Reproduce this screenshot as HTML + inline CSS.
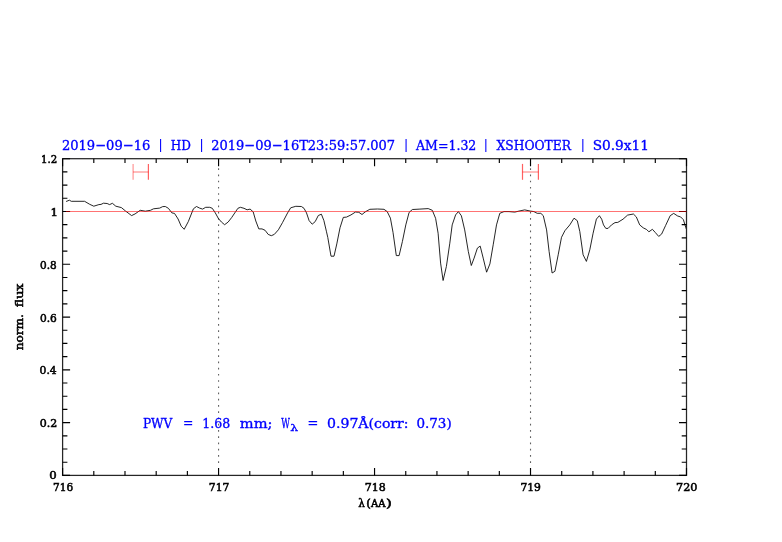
<!DOCTYPE html><html><head><meta charset="utf-8"><style>html,body{margin:0;padding:0;background:#fff;width:782px;height:542px;overflow:hidden}svg{display:block;will-change:transform}text{font-family:"DejaVu Serif","Liberation Serif",serif;font-kerning:none;white-space:pre}.b{fill:#00f;stroke:#00f;stroke-width:0.35}.bb{fill:#00f}.k{fill:#000;stroke:#000;stroke-width:0.55}</style></head><body>
<svg width="782" height="542" viewBox="0 0 782 542">
<rect width="782" height="542" fill="#fff"/>
<line x1="218.57" y1="168.2" x2="218.57" y2="463" stroke="#000" stroke-width="1.1" stroke-dasharray="1.7 4.534" stroke-opacity="0.62"/>
<line x1="530.52" y1="168.2" x2="530.52" y2="463" stroke="#000" stroke-width="1.1" stroke-dasharray="1.7 4.534" stroke-opacity="0.62"/>
<path d="M133.1 172H148.4" stroke="#f00" stroke-opacity="0.38" stroke-width="1.4" fill="none"/>
<path d="M133.1 163.9V179.8" stroke="#f00" stroke-opacity="0.42" stroke-width="1.2" fill="none"/>
<path d="M148.4 163.9V179.8" stroke="#f00" stroke-opacity="0.62" stroke-width="1.2" fill="none"/>
<path d="M522.5 172H538.4" stroke="#f00" stroke-opacity="0.38" stroke-width="1.4" fill="none"/>
<path d="M522.5 163.9V179.8" stroke="#f00" stroke-opacity="0.62" stroke-width="1.2" fill="none"/>
<path d="M538.4 163.9V179.8" stroke="#f00" stroke-opacity="0.62" stroke-width="1.2" fill="none"/>
<path d="M66.1 201.5 L69.4 200.2 L71.3 201.3 L84.6 201.3 L89.7 204.3 L93.8 206.2 L98.9 204.6 L101.0 204.4 L103.5 203.2 L107.1 203.5 L109.6 204.6 L112.4 203.3 L115.8 206.2 L121.4 207.6 L125.5 211.0 L131.6 215.6 L135.1 213.9 L140.2 210.3 L145.3 211.2 L150.5 210.3 L153.5 208.8 L159.7 208.1 L162.7 206.6 L165.3 206.5 L168.4 208.3 L171.9 212.9 L174.5 213.4 L178.1 219.0 L181.2 226.2 L184.2 229.3 L188.3 221.6 L193.4 208.8 L196.5 206.5 L199.6 208.1 L202.6 209.1 L205.7 207.3 L209.7 207.3 L212.3 208.3 L215.3 212.9 L218.4 218.5 L221.5 222.1 L224.6 224.7 L228.1 222.1 L231.7 217.5 L235.8 211.4 L237.9 208.3 L240.4 207.3 L244.0 208.3 L247.1 209.8 L250.1 209.1 L253.2 211.9 L255.8 221.0 L258.8 228.9 L262.0 228.9 L265.1 230.3 L268.2 234.4 L271.3 235.7 L274.3 234.4 L278.4 229.8 L282.5 222.6 L287.6 212.9 L290.7 207.8 L295.8 206.3 L301.4 206.5 L304.0 208.3 L306.5 212.9 L309.1 220.6 L312.2 224.2 L315.2 221.6 L318.3 215.5 L321.4 214.2 L323.9 220.6 L326.5 231.8 L327.8 237.5 L331.0 256.2 L334.0 256.2 L336.8 243.9 L340.0 227.8 L343.3 217.4 L346.5 217.1 L351.0 214.9 L355.5 212.0 L358.8 212.3 L362.0 214.5 L365.2 211.9 L369.8 209.3 L377.5 209.0 L384.0 209.3 L387.2 211.6 L390.4 218.1 L393.0 232.3 L396.3 255.6 L399.1 255.6 L402.4 241.5 L405.8 224.9 L409.1 212.4 L412.4 209.5 L419.9 209.1 L428.2 208.6 L432.3 210.3 L435.6 218.3 L438.1 233.2 L440.6 263.1 L443.1 280.5 L446.4 266.4 L449.8 243.2 L452.2 224.9 L455.6 214.9 L458.4 211.6 L461.4 215.8 L464.7 229.9 L468.3 251.4 L471.3 265.5 L474.1 258.1 L477.4 248.1 L480.2 246.1 L483.2 258.1 L486.6 272.2 L489.9 263.9 L493.2 244.8 L496.5 224.9 L499.8 213.3 L504.0 211.6 L509.0 211.6 L514.8 212.1 L518.9 211.1 L524.7 209.9 L530.5 211.1 L533.9 211.6 L537.2 213.3 L540.8 213.3 L543.3 215.7 L546.6 229.9 L549.1 251.4 L552.1 273.0 L554.9 271.3 L558.2 254.8 L561.5 237.3 L564.9 230.7 L569.8 224.9 L574.0 218.2 L577.3 220.7 L579.8 231.5 L583.1 254.8 L586.4 261.4 L589.8 249.8 L593.1 233.2 L596.4 219.1 L599.4 215.7 L601.7 219.2 L603.5 224.9 L605.8 228.4 L608.1 228.4 L611.5 224.9 L615.0 222.6 L617.8 222.4 L623.0 219.2 L627.6 215.1 L633.4 214.0 L636.3 216.9 L639.7 224.9 L643.2 227.8 L646.6 229.5 L648.9 231.8 L652.4 229.3 L655.2 232.4 L658.7 236.4 L661.6 234.1 L665.6 225.5 L670.2 215.7 L673.7 213.4 L677.7 216.0 L680.6 216.9 L683.4 219.7 L685.7 227.2 L686.4 229.2" fill="none" stroke="#000" stroke-width="1.0" stroke-opacity="0.85" stroke-linejoin="round"/>
<rect x="62.6" y="158.7" width="623.90" height="316.70" fill="none" stroke="#262626" stroke-width="1.25"/>
<path d="M62.60 475.4v-7.5M62.60 158.7v7.5M93.80 475.4v-4.3M93.80 158.7v4.3M124.99 475.4v-4.3M124.99 158.7v4.3M156.19 475.4v-4.3M156.19 158.7v4.3M187.38 475.4v-4.3M187.38 158.7v4.3M218.57 475.4v-7.5M218.57 158.7v7.5M249.77 475.4v-4.3M249.77 158.7v4.3M280.96 475.4v-4.3M280.96 158.7v4.3M312.16 475.4v-4.3M312.16 158.7v4.3M343.35 475.4v-4.3M343.35 158.7v4.3M374.55 475.4v-7.5M374.55 158.7v7.5M405.75 475.4v-4.3M405.75 158.7v4.3M436.94 475.4v-4.3M436.94 158.7v4.3M468.14 475.4v-4.3M468.14 158.7v4.3M499.33 475.4v-4.3M499.33 158.7v4.3M530.52 475.4v-7.5M530.52 158.7v7.5M561.72 475.4v-4.3M561.72 158.7v4.3M592.91 475.4v-4.3M592.91 158.7v4.3M624.11 475.4v-4.3M624.11 158.7v4.3M655.30 475.4v-4.3M655.30 158.7v4.3M686.50 475.4v-7.5M686.50 158.7v7.5M62.6 475.40h7.5M686.5 475.40h-7.5M62.6 462.20h4.8M686.5 462.20h-4.8M62.6 449.01h4.8M686.5 449.01h-4.8M62.6 435.81h4.8M686.5 435.81h-4.8M62.6 422.62h7.5M686.5 422.62h-7.5M62.6 409.42h4.8M686.5 409.42h-4.8M62.6 396.22h4.8M686.5 396.22h-4.8M62.6 383.03h4.8M686.5 383.03h-4.8M62.6 369.83h7.5M686.5 369.83h-7.5M62.6 356.64h4.8M686.5 356.64h-4.8M62.6 343.44h4.8M686.5 343.44h-4.8M62.6 330.25h4.8M686.5 330.25h-4.8M62.6 317.05h7.5M686.5 317.05h-7.5M62.6 303.85h4.8M686.5 303.85h-4.8M62.6 290.66h4.8M686.5 290.66h-4.8M62.6 277.46h4.8M686.5 277.46h-4.8M62.6 264.27h7.5M686.5 264.27h-7.5M62.6 251.07h4.8M686.5 251.07h-4.8M62.6 237.88h4.8M686.5 237.88h-4.8M62.6 224.68h4.8M686.5 224.68h-4.8M62.6 211.48h7.5M686.5 211.48h-7.5M62.6 198.29h4.8M686.5 198.29h-4.8M62.6 185.09h4.8M686.5 185.09h-4.8M62.6 171.90h4.8M686.5 171.90h-4.8M62.6 158.70h7.5M686.5 158.70h-7.5" stroke="#000" stroke-width="1.15" fill="none"/>
<text class="k" x="49.23" y="479.40" font-size="11" textLength="7.45" lengthAdjust="spacingAndGlyphs">0</text>
<text class="k" x="39.77" y="427.12" font-size="11" textLength="17.51" lengthAdjust="spacingAndGlyphs">0.2</text>
<text class="k" x="39.59" y="374.33" font-size="11" textLength="17.15" lengthAdjust="spacingAndGlyphs">0.4</text>
<text class="k" x="40.00" y="321.55" font-size="11" textLength="16.87" lengthAdjust="spacingAndGlyphs">0.6</text>
<text class="k" x="40.11" y="268.77" font-size="11" textLength="16.70" lengthAdjust="spacingAndGlyphs">0.8</text>
<text class="k" x="50.46" y="215.98" font-size="11" textLength="7.52" lengthAdjust="spacingAndGlyphs">1</text>
<text class="k" x="41.05" y="163.20" font-size="11" textLength="16.25" lengthAdjust="spacingAndGlyphs">1.2</text>
<text class="k" x="53.12" y="490.70" font-size="11" textLength="20.04" lengthAdjust="spacingAndGlyphs">716</text>
<text class="k" x="208.79" y="490.70" font-size="11" textLength="20.59" lengthAdjust="spacingAndGlyphs">717</text>
<text class="k" x="364.67" y="490.70" font-size="11" textLength="21.07" lengthAdjust="spacingAndGlyphs">718</text>
<text class="k" x="520.40" y="490.70" font-size="11" textLength="20.53" lengthAdjust="spacingAndGlyphs">719</text>
<text class="k" x="676.06" y="490.70" font-size="11" textLength="21.38" lengthAdjust="spacingAndGlyphs">720</text>
<text class="k" x="358.37" y="506.50" font-size="10.5" textLength="6.62" lengthAdjust="spacingAndGlyphs">λ</text>
<text class="k" x="366.38" y="506.50" font-size="10.5" textLength="4.56" lengthAdjust="spacingAndGlyphs">(</text>
<text class="k" x="370.96" y="506.50" font-size="10.5" textLength="14.64" lengthAdjust="spacingAndGlyphs">AA</text>
<text class="k" x="386.14" y="506.50" font-size="10.5" textLength="5.85" lengthAdjust="spacingAndGlyphs">)</text>
<text class="k" transform="rotate(-90)" x="-350.34" y="23.2" font-size="11.5" textLength="36.28" lengthAdjust="spacingAndGlyphs">norm.</text>
<text class="k" transform="rotate(-90)" x="-307.35" y="23.2" font-size="11.5" textLength="23.81" lengthAdjust="spacingAndGlyphs">flux</text>
<text class="b" x="61.91" y="150.40" font-size="13.8" textLength="88.41" lengthAdjust="spacingAndGlyphs">2019−09−16</text>
<text class="b" x="170.84" y="150.40" font-size="13.8" textLength="20.16" lengthAdjust="spacingAndGlyphs">HD</text>
<text class="b" x="211.22" y="150.40" font-size="13.8" textLength="183.92" lengthAdjust="spacingAndGlyphs">2019−09−16T23:59:57.007</text>
<text class="b" x="416.07" y="150.40" font-size="13.8" textLength="60.26" lengthAdjust="spacingAndGlyphs">AM=1.32</text>
<text class="b" x="496.53" y="150.40" font-size="13.8" textLength="74.48" lengthAdjust="spacingAndGlyphs">XSHOOTER</text>
<text class="b" x="592.65" y="150.40" font-size="13.8" textLength="56.30" lengthAdjust="spacingAndGlyphs">S0.9x11</text>
<text class="bb" x="160.70" y="149.40" font-size="13.8" text-anchor="middle">|</text>
<text class="bb" x="201.70" y="149.40" font-size="13.8" text-anchor="middle">|</text>
<text class="bb" x="406.00" y="149.40" font-size="13.8" text-anchor="middle">|</text>
<text class="bb" x="485.80" y="149.40" font-size="13.8" text-anchor="middle">|</text>
<text class="bb" x="582.80" y="149.40" font-size="13.8" text-anchor="middle">|</text>
<text class="b" x="142.93" y="427.60" font-size="13.6" textLength="29.39" lengthAdjust="spacingAndGlyphs">PWV</text>
<text class="b" x="183.00" y="426.80" font-size="13.6" textLength="10.31" lengthAdjust="spacingAndGlyphs">=</text>
<text class="b" x="202.27" y="427.60" font-size="13.6" textLength="27.98" lengthAdjust="spacingAndGlyphs">1.68</text>
<text class="b" x="239.77" y="427.60" font-size="13.6" textLength="32.71" lengthAdjust="spacingAndGlyphs">mm;</text>
<text class="b" x="281.16" y="427.60" font-size="13.6" textLength="8.67" lengthAdjust="spacingAndGlyphs">W</text>
<text class="b" x="307.53" y="426.80" font-size="13.6" textLength="10.84" lengthAdjust="spacingAndGlyphs">=</text>
<text class="b" x="327.07" y="427.60" font-size="13.6" textLength="81.48" lengthAdjust="spacingAndGlyphs">0.97Å(corr:</text>
<text class="b" x="416.41" y="427.60" font-size="13.6" textLength="35.25" lengthAdjust="spacingAndGlyphs">0.73)</text>
<text class="b" x="290.29" y="431.00" font-size="9.5" textLength="7.85" lengthAdjust="spacingAndGlyphs">λ</text>
<line x1="66.0" y1="211.5" x2="686.50" y2="211.5" stroke="#f00" stroke-opacity="0.55" stroke-width="1.1"/>
</svg></body></html>
